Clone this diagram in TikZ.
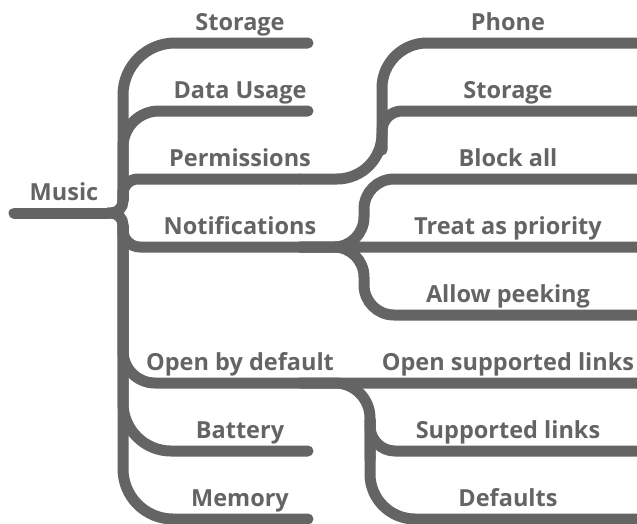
\documentclass[tikz,border=0pt]{standalone}
\usepackage{fontspec}
\setmainfont{Open Sans}
\definecolor{mm}{RGB}{100,100,100}
\begin{document}
\begin{tikzpicture}[x=1pt,y=-1pt,
  br/.style={draw=mm,line width=11pt,line cap=round,rounded corners=#1},
  lbl/.style={text=mm,font=\fontsize{23.5}{28}\selectfont\bfseries,anchor=base,inner sep=0pt}]
\useasboundingbox (0,0) rectangle (637,523);
\clip (0,0) rectangle (637,523);
% coordinates
\coordinate (mL) at (14,213);
\coordinate (mE) at (108,213);
\coordinate (jU) at (123,190);
\coordinate (jD) at (123,236);
\coordinate (tU) at (123,200);
\coordinate (tD) at (123,226);
\coordinate (e0) at (308,43);
\coordinate (e1) at (308,111);
\coordinate (pJ) at (300,179);
\coordinate (pT) at (382,43);
\coordinate (pS) at (382,150);
\coordinate (r0) at (650,43);
\coordinate (r1) at (650,111);
\coordinate (r2) at (650,179);
\coordinate (r3) at (650,247);
\coordinate (r4) at (650,315);
\coordinate (r5) at (650,383);
\coordinate (r6) at (650,451);
\coordinate (r7) at (650,519);
\coordinate (nJ) at (300,247);
\coordinate (nU) at (364,179);
\coordinate (nD) at (364,315);
\coordinate (oJ) at (300,383);
\coordinate (oT) at (370,460);
\coordinate (oS) at (370,420);
\coordinate (e6) at (308,451);
\coordinate (e7) at (308,519);
% root
\draw[br=0] (mL) -- (mE);
\draw[br=12] (mE) -| (jU);
\draw[br=12] (mE) -| (jD);
% level 1
\draw[br=52] (tU) |- (e0);
\draw[br=36] (tU) |- (e1);
\draw[br=15] (tU) |- (pJ);
\draw[br=17] (tD) |- (r3);
\draw[br=32] (tD) |- (r5);
\draw[br=48] (tD) |- (e6);
\draw[br=50] (tD) |- (e7);
% permissions
\draw[br=45] (pJ) -| (pT) -- (r0);
\draw[br=20] (pS) |- (r1);
% notifications
\draw[br=30] (nJ) -| (nU) -- (r2);
\draw[br=30] (nJ) -| (nD) -- (r4);
% open by default
\draw[br=35] (oJ) -| (oT);
\draw[br=25] (oS) |- (r6);
\draw[br=45] (oS) |- (r7);
% labels
\node[lbl] (tMusic) at (64,200) {Music};
\node[lbl] (t0) at (240,30) {Storage};
\node[lbl] (t1) at (240,98) {Data Usage};
\node[lbl] (t2) at (240,166) {Permissions};
\node[lbl] (t3) at (240,234) {Notifications};
\node[lbl] (t5) at (240,370) {Open by default};
\node[lbl] (t6) at (240,438) {Battery};
\node[lbl] (t7) at (240,506) {Memory};
\node[lbl] (s0) at (508,30) {Phone};
\node[lbl] (s1) at (508,98) {Storage};
\node[lbl] (s2) at (508,166) {Block all};
\node[lbl] (s3) at (508,234) {Treat as priority};
\node[lbl] (s4) at (508,302) {Allow peeking};
\node[lbl] (s5) at (508,370) {Open supported links};
\node[lbl] (s6) at (508,438) {Supported links};
\node[lbl] (s7) at (508,506) {Defaults};
\end{tikzpicture}
\end{document}
